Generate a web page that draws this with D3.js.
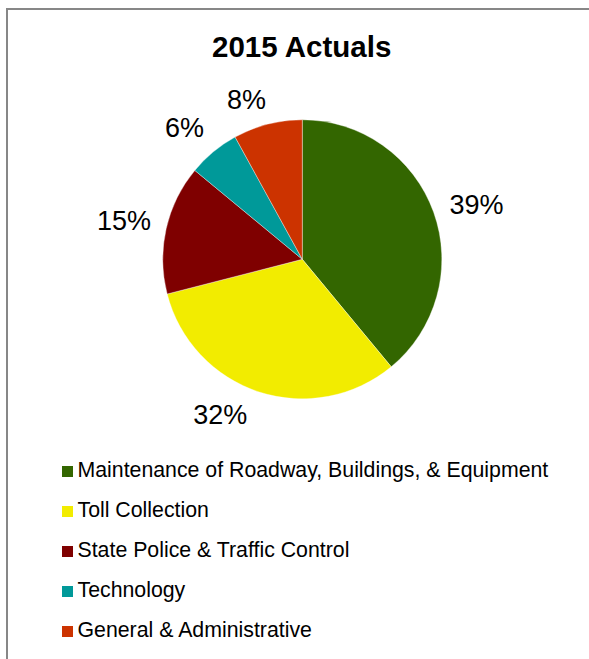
<!DOCTYPE html>
<html>
<head>
<meta charset="utf-8">
<script src="https://cdn.jsdelivr.net/npm/d3@7"></script>
<style>
  html, body { margin: 0; padding: 0; background: #fff; }
  svg { display: block; }
  text { font-family: "Liberation Sans", Arial, Helvetica, sans-serif; fill: #000; }
</style>
</head>
<body>
<svg id="chart" width="589" height="659"></svg>
<script>
// Spending categories and their share of the 2015 actuals (percent)
const categories = [
  "Maintenance of Roadway, Buildings, & Equipment",
  "Toll Collection",
  "State Police & Traffic Control",
  "Technology",
  "General & Administrative"
];
const shares = [39, 32, 15, 6, 8];
const chartTitle = "2015 Actuals";

// Palette, one colour per category
const palette = ["#336600", "#f2ec00", "#7f0000", "#009999", "#cc3300"];

// Layout
const W = 589, H = 659;
const cx = 302.3, cy = 259.3, radius = 139.5;
const labelFont = 27, legendFont = 21.3, titleFont = 29.5;
// fine adjustment of where each percentage label sits around the pie (degrees, px gap)
const labelShift = [2.3, 9.9, -0.2, -2.2, -4.8];
const labelGap = [14.5, 14.5, 14.5, 17, 14.5];

const svg = d3.select("#chart");

// frame
svg.append("rect")
  .attr("x", 7).attr("y", 9)
  .attr("width", W + 20).attr("height", H + 20)
  .attr("fill", "#fff")
  .attr("stroke", "#878787")
  .attr("stroke-width", 2);

// title
svg.append("text")
  .attr("x", 301.7).attr("y", 57.3)
  .attr("text-anchor", "middle")
  .style("font-size", titleFont + "px")
  .style("font-weight", "bold")
  .text(chartTitle);

const color = d3.scaleOrdinal().domain(categories).range(palette);

const pie = d3.pie().sort(null).value(d => d.value);
const arcs = pie(categories.map((c, i) => ({ name: c, value: shares[i] })));
const arc = d3.arc().innerRadius(0).outerRadius(radius);

const g = svg.append("g").attr("transform", `translate(${cx},${cy})`);

g.selectAll("path.slice")
  .data(arcs)
  .join("path")
  .attr("class", "slice")
  .attr("d", arc)
  .attr("fill", d => color(d.data.name))
  .attr("stroke", "#ffffff")
  .attr("stroke-width", 0.5)
  .attr("stroke-opacity", 0.7);

// percentage labels placed just outside each slice
const labels = g.selectAll("text.pct")
  .data(arcs)
  .join("text")
  .attr("class", "pct")
  .attr("text-anchor", "middle")
  .style("font-size", labelFont + "px")
  .text(d => d.data.value + "%");

labels.each(function (d, i) {
  const el = d3.select(this);
  const w = this.getComputedTextLength();
  const hh = 0.358 * labelFont;
  const a = (d.startAngle + d.endAngle) / 2 + labelShift[i] * Math.PI / 180;
  const sx = Math.sin(a), sy = -Math.cos(a);
  const dist = radius + labelGap[i] + Math.abs(sx) * w / 2 + Math.abs(sy) * hh;
  el.attr("x", sx * dist).attr("y", sy * dist + hh);
});

// legend
const legendY = d3.scalePoint().domain(categories).range([477, 637]);
const legend = svg.append("g");
const item = legend.selectAll("g.item")
  .data(categories)
  .join("g")
  .attr("class", "item")
  .attr("transform", d => `translate(0,${legendY(d)})`);

item.append("rect")
  .attr("x", 62).attr("y", -11)
  .attr("width", 11).attr("height", 11)
  .attr("fill", d => color(d));

item.append("text")
  .attr("x", 77.5).attr("y", 0)
  .style("font-size", legendFont + "px")
  .text(d => d);
</script>
</body>
</html>
